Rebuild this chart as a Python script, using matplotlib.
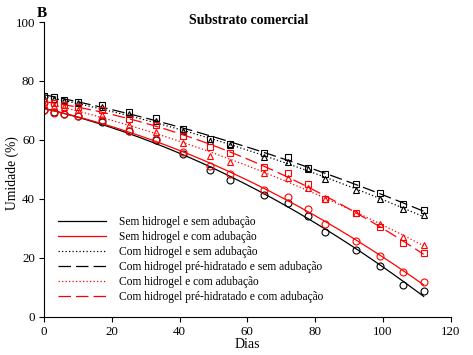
import numpy as np
import matplotlib
matplotlib.use("Agg")
import matplotlib.pyplot as plt

plt.rcParams['font.family'] = ['Liberation Serif', 'DejaVu Serif']

# dias de avaliacao
dias = [0, 3, 6, 10, 17, 25, 33, 41, 49, 55, 65, 72, 78, 83, 92, 99, 106, 112]

# umidade (%) por tratamento
sem_hid_sem_adub = [70.0, 69.3, 68.8, 68.0, 66.0, 63.0, 59.8, 55.3, 49.7, 46.3,
                    41.3, 38.6, 34.1, 28.8, 22.6, 17.1, 10.7, 8.7]
sem_hid_com_adub = [70.1, 69.2, 68.8, 68.1, 66.7, 63.1, 60.2, 56.0, 51.0, 48.3,
                    43.0, 40.5, 36.4, 31.4, 25.7, 20.7, 15.2, 11.6]
hid_sem_adub = [74.2, 73.8, 73.2, 72.5, 71.2, 68.7, 66.5, 63.0, 59.6, 58.1,
                54.3, 52.6, 50.0, 46.6, 43.1, 40.0, 36.7, 34.4]
hidpre_sem_adub = [74.9, 74.4, 73.7, 72.9, 72.0, 69.3, 67.3, 63.8, 60.4, 58.7,
                   55.4, 54.3, 50.3, 48.4, 45.0, 41.8, 38.1, 36.2]
hid_com_adub = [72.2, 71.5, 71.0, 70.0, 68.4, 65.0, 62.8, 58.8, 54.5, 52.6,
                48.9, 46.9, 43.5, 40.1, 35.3, 31.4, 27.2, 24.3]
hidpre_com_adub = [72.9, 72.4, 71.8, 71.2, 70.1, 67.0, 65.0, 61.3, 57.6, 55.4,
                   50.9, 48.6, 45.0, 40.1, 35.3, 30.5, 25.0, 21.5]

series = [
    ("Sem hidrogel e sem adubação", sem_hid_sem_adub, 'black', '-', 'o'),
    ("Sem hidrogel e com adubação", sem_hid_com_adub, 'red', '-', 'o'),
    ("Com hidrogel e sem adubação", hid_sem_adub, 'black', ':', '^'),
    ("Com hidrogel pré-hidratado e sem adubação", hidpre_sem_adub, 'black', '--', 's'),
    ("Com hidrogel e com adubação", hid_com_adub, 'red', ':', '^'),
    ("Com hidrogel pré-hidratado e com adubação", hidpre_com_adub, 'red', '--', 's'),
]

fig = plt.figure(figsize=(4.73, 3.55), dpi=100)
ax = fig.add_axes([0.093, 0.108, 0.860, 0.830])

x = np.array(dias, dtype=float)
xs = np.linspace(0, 112, 200)
handles = []
for nome, y, cor, ls, mk in series:
    # curva ajustada (regressao quadratica)
    coef = np.polyfit(x, np.array(y), 2)
    kw = dict(color=cor, lw=0.9)
    if ls == '--':
        kw['dashes'] = (10, 4)
    elif ls == ':':
        kw['dashes'] = (1, 1.8)
    ln, = ax.plot(xs, np.polyval(coef, xs), label=nome, **kw)
    handles.append(ln)
    ax.plot(x, y, linestyle='none', marker=mk, markersize=5,
            markerfacecolor='none', markeredgecolor=cor, markeredgewidth=0.8)

ax.set_xlim(0, 120)
ax.set_ylim(0, 100)
ax.set_xticks(np.arange(0, 121, 20))
ax.set_yticks(np.arange(0, 101, 20))
ax.spines['top'].set_visible(False)
ax.spines['right'].set_visible(False)
ax.tick_params(direction='out', length=3.5, width=0.8, labelsize=9.3, pad=3)
ax.set_xlabel('Dias', fontsize=10, labelpad=0)
fig.text(0.026, 0.513, 'Umidade (%)', rotation=90, ha='center', va='center',
         fontsize=9.8)

ax.legend(handles=handles, loc='upper left', bbox_to_anchor=(0.034, 0.34),
          frameon=False, fontsize=8.3, handlelength=4.2, handletextpad=1.1,
          labelspacing=0.25, borderpad=0, borderaxespad=0)

fig.text(0.525, 0.942, 'Substrato comercial', ha='center', va='center',
         fontsize=10, fontweight='bold')
fig.text(0.078, 0.962, 'B', ha='left', va='center', fontsize=11, fontweight='bold')

fig.savefig('out.png', dpi=100)
